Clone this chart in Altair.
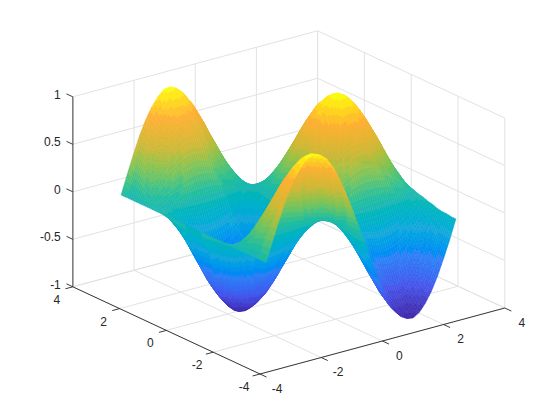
import altair as alt
import pandas as pd

# Surface grid: rows run along y, columns along x; heights in hundredths
x_grid = [-3.14,-2.94,-2.74,-2.54,-2.34,-2.14,-1.94,-1.74,-1.54,-1.34,-1.14,-0.94,-0.74,-0.54,-0.34,-0.14,0.06,0.26,0.46,0.66,0.86,1.06,1.26,1.46,1.66,1.86,2.06,2.26,2.46,2.66,2.86,3.06]
y_grid = list(x_grid)
z_rows = [
[0,20,39,57,72,84,93,99,100,97,91,81,67,51,33,14,-6,-26,-44,-61,-76,-87,-95,-99,-100,-96,-88,-77,-63,-46,-28,-8],
[0,20,38,56,71,82,91,97,98,95,89,79,66,50,32,14,-6,-25,-43,-60,-74,-85,-93,-97,-98,-94,-86,-75,-62,-45,-27,-8],
[0,18,36,52,66,77,86,91,92,89,84,75,62,47,30,13,-6,-24,-40,-56,-70,-80,-87,-91,-92,-88,-81,-71,-58,-42,-26,-7],
[0,17,32,47,60,70,77,82,83,81,76,67,56,42,27,12,-5,-22,-37,-51,-63,-72,-79,-82,-83,-80,-73,-64,-52,-38,-23,-7],
[0,14,27,40,50,59,65,69,70,68,64,57,47,36,23,10,-4,-18,-31,-43,-53,-61,-67,-69,-70,-67,-62,-54,-44,-32,-20,-6],
[0,11,21,31,39,45,50,53,54,52,49,44,36,28,18,8,-3,-14,-24,-33,-41,-47,-51,-53,-54,-52,-48,-42,-34,-25,-15,-4],
[0,7,14,21,26,30,33,36,36,35,33,29,24,18,12,5,-2,-9,-16,-22,-27,-31,-34,-36,-36,-35,-32,-28,-23,-17,-10,-3],
[0,3,7,10,12,14,16,17,17,16,15,14,11,9,6,2,-1,-4,-7,-10,-13,-15,-16,-17,-17,-16,-15,-13,-11,-8,-5,-1],
[0,-1,-1,-2,-2,-3,-3,-3,-3,-3,-3,-2,-2,-2,-1,0,0,1,1,2,2,3,3,3,3,3,3,2,2,1,1,0],
[0,-5,-9,-13,-17,-19,-21,-23,-23,-22,-21,-19,-15,-12,-8,-3,1,6,10,14,17,20,22,23,23,22,20,18,14,11,6,2],
[0,-8,-16,-24,-30,-35,-39,-42,-42,-41,-38,-34,-28,-21,-14,-6,3,11,18,26,32,37,40,42,42,40,37,32,26,19,12,3],
[0,-12,-23,-34,-42,-50,-55,-58,-59,-57,-54,-48,-40,-30,-19,-8,4,15,26,36,45,51,56,58,59,57,52,45,37,27,17,5],
[0,-15,-29,-42,-53,-62,-69,-73,-74,-72,-67,-60,-50,-38,-24,-10,4,19,33,45,56,64,70,73,74,71,65,57,47,34,21,6],
[0,-17,-34,-49,-62,-72,-80,-85,-86,-83,-78,-70,-58,-44,-28,-12,5,22,38,52,65,75,82,85,86,83,76,66,54,40,24,7],
[0,-19,-37,-54,-68,-79,-87,-93,-94,-91,-86,-76,-63,-48,-31,-13,6,24,41,57,71,82,89,93,94,90,83,72,59,43,26,8],
[0,-20,-39,-56,-71,-83,-92,-98,-99,-96,-90,-80,-66,-50,-33,-14,6,26,44,60,75,86,94,98,99,95,87,76,62,46,28,8],
[0,-20,-39,-57,-72,-84,-93,-99,-100,-97,-91,-81,-67,-51,-33,-14,6,26,44,61,76,87,95,99,100,96,88,77,63,46,28,8],
[0,-19,-38,-55,-70,-81,-90,-96,-97,-94,-88,-79,-65,-49,-32,-14,6,25,43,59,74,84,92,96,97,93,85,75,61,45,27,8],
[0,-18,-35,-51,-65,-76,-84,-89,-90,-87,-82,-73,-60,-46,-30,-13,5,23,40,55,68,78,86,89,90,86,79,69,57,41,25,7],
[0,-16,-31,-45,-57,-66,-73,-78,-79,-77,-72,-64,-53,-40,-26,-11,5,21,35,48,60,69,75,78,79,76,70,61,50,36,22,6],
[0,-13,-25,-37,-47,-55,-60,-64,-65,-63,-59,-53,-44,-33,-21,-9,4,17,29,40,49,57,62,64,65,62,57,50,41,30,18,5],
[0,-10,-19,-28,-35,-41,-46,-49,-49,-48,-45,-40,-33,-25,-16,-7,3,13,22,30,37,43,47,49,49,47,43,38,31,23,14,4],
[0,-6,-12,-18,-22,-26,-29,-31,-31,-30,-28,-25,-21,-16,-10,-4,2,8,14,19,24,27,29,31,31,30,27,24,20,14,9,2],
[0,-2,-4,-6,-8,-9,-10,-11,-11,-11,-10,-9,-7,-6,-4,-2,1,3,5,7,8,10,10,11,11,11,10,8,7,5,3,1],
[0,2,4,5,6,8,8,9,9,9,8,7,6,5,3,1,-1,-2,-4,-5,-7,-8,-9,-9,-9,-9,-8,-7,-6,-4,-3,-1],
[0,6,11,17,21,24,27,29,29,28,26,23,19,15,10,4,-2,-8,-13,-18,-22,-25,-28,-29,-29,-28,-26,-22,-18,-13,-8,-2],
[0,9,18,27,34,39,44,47,47,46,43,38,31,24,16,7,-3,-12,-21,-29,-36,-41,-45,-47,-47,-45,-41,-36,-30,-22,-13,-4],
[0,13,25,36,46,54,60,63,64,62,58,52,43,33,21,9,-4,-17,-28,-39,-49,-56,-61,-63,-64,-61,-56,-49,-40,-29,-18,-5],
[0,16,30,44,56,66,73,77,78,76,71,63,52,40,26,11,-5,-20,-34,-48,-59,-68,-74,-77,-78,-75,-69,-60,-49,-36,-22,-6],
[0,18,35,51,64,75,83,88,89,86,81,72,60,45,29,12,-5,-23,-39,-54,-68,-77,-85,-88,-89,-85,-78,-69,-56,-41,-25,-7],
[0,19,37,55,69,81,89,95,96,93,87,78,64,49,32,13,-6,-25,-42,-59,-73,-84,-91,-95,-96,-92,-84,-74,-60,-44,-27,-8],
[0,20,39,57,72,84,93,99,100,97,91,81,67,51,33,14,-6,-26,-44,-61,-76,-87,-95,-99,-100,-96,-88,-77,-63,-46,-28,-8],
]
xy_ticks = [-4, -2, 0, 2, 4]
z_ticks = [-1, -0.5, 0, 0.5, 1]
z_labels = ["-1", "-0.5", "0", "0.5", "1"]
parula_stops = ["#3e26a8", "#4656ec", "#2e80f6", "#14a8da", "#1cb8b0", "#6cc466", "#d0b838", "#feb034", "#f9fb15"]

GRID = "#e2e2e2"
INK = "#262626"
FONT = "Liberation Sans"
SHADE = 3        # colour cells per facet side, like interpolated shading
LEVELS = 16      # colour levels per unit of height, like a discrete colormap

def project(x, y, z):
    """Orthographic view of the 3-D box (az -37.5, el 30) onto the page."""
    return (260 + (x + 4) * 30.6 - (y + 4) * 23.4,
            374 - (x + 4) * 8.25 - (y + 4) * 10.9 - (z + 1) * 95)

def seg(p, q):
    a, b = project(*p), project(*q)
    return {"a": a[0], "b": a[1], "a2": b[0], "b2": b[1]}

# back walls and floor
grid = []
for t in xy_ticks:
    grid += [seg((t, 4, -1), (t, 4, 1)), seg((4, t, -1), (4, t, 1)),
             seg((t, -4, -1), (t, 4, -1)), seg((-4, t, -1), (4, t, -1))]
for t in z_ticks:
    grid += [seg((-4, 4, t), (4, 4, t)), seg((4, -4, t), (4, 4, t))]

# axes and ticks
axes_dark = [seg((-4, -4, -1), (4, -4, -1)), seg((-4, -4, -1), (-4, 4, -1))]
for t in xy_ticks:
    axes_dark += [seg((t, -4, -1), (t, -4.28, -1)), seg((-4, t, -1), (-4.24, t, -1))]
axes_grey = [seg((-4, 4, -1), (-4, 4, 1))]
for t in z_ticks:
    axes_dark.append(seg((-4, 4, t), (-4, 4.27, t)))

labels = []
for t in xy_ticks:
    a = project(t, -4, -1)
    labels.append({"a": a[0] + 17, "b": a[1] + 14.5, "t": str(t)})
    a = project(-4, t, -1)
    labels.append({"a": a[0] - 16, "b": a[1] + 13, "t": str(t)})
z_text = []
for t, s in zip(z_ticks, z_labels):
    a = project(-4, 4, t)
    z_text.append({"a": a[0] - 12, "b": a[1] - 2, "t": s})

def blend(i, j, u, v):
    """Point of facet (i, j) at (u, v): x, y, height."""
    x0, x1, y0, y1 = x_grid[i], x_grid[i + 1], y_grid[j], y_grid[j + 1]
    z00, z10 = z_rows[j][i], z_rows[j][i + 1]
    z01, z11 = z_rows[j + 1][i], z_rows[j + 1][i + 1]
    z = (z00 * (1 - u) + z10 * u) * (1 - v) + (z01 * (1 - u) + z11 * u) * v
    return x0 + (x1 - x0) * u, y0 + (y1 - y0) * v, z / 100

# painted from the far corner to the near one
features = []
n = len(x_grid)
for j in range(n - 2, -1, -1):
    for i in range(n - 2, -1, -1):
        for b in range(SHADE - 1, -1, -1):
            for a in range(SHADE - 1, -1, -1):
                us = [a / SHADE, (a + 1) / SHADE]
                vs = [b / SHADE, (b + 1) / SHADE]
                pts3 = [blend(i, j, us[0], vs[0]), blend(i, j, us[1], vs[0]),
                        blend(i, j, us[1], vs[1]), blend(i, j, us[0], vs[1])]
                pts = [list(project(*p)) for p in pts3]
                pts.append(pts[0])
                zm = sum(p[2] for p in pts3) / 4
                features.append({"type": "Feature",
                                 "geometry": {"type": "Polygon", "coordinates": [pts]},
                                 "properties": {"z": round(zm * LEVELS) / LEVELS}})

X = alt.X("a:Q", scale=alt.Scale(domain=[8, 552]), axis=None)
Y = alt.Y("b:Q", scale=alt.Scale(domain=[412, 8]), axis=None)

def rules(rows, color, width):
    return alt.Chart(pd.DataFrame(rows)).mark_rule(color=color, strokeWidth=width).encode(
        x=X, y=Y, x2="a2:Q", y2="b2:Q")

cscale = alt.Scale(domain=[-1, 1], range=parula_stops)
surface = alt.Chart(alt.Data(values=features)).mark_geoshape(strokeWidth=0.5, opacity=1, fillOpacity=1, strokeOpacity=1).encode(
    color=alt.Color("properties.z:Q", scale=cscale, legend=None),
    stroke=alt.Stroke("properties.z:Q", scale=cscale, legend=None),
).project(type="identity", scale=1, translate=[-8, -8])

tick_text = alt.Chart(pd.DataFrame(labels)).mark_text(
    font=FONT, fontSize=12, color=INK, align="center", baseline="middle").encode(x=X, y=Y, text="t:N")
z_tick_text = alt.Chart(pd.DataFrame(z_text)).mark_text(
    font=FONT, fontSize=12, color=INK, align="right", baseline="middle").encode(x=X, y=Y, text="t:N")

chart = alt.layer(
    rules(grid, GRID, 1),
    surface,
    rules(axes_grey, "#808080", 1.6),
    rules(axes_dark, INK, 0.9),
    tick_text,
    z_tick_text,
).properties(width=544, height=404, padding=0, autosize=alt.AutoSizeParams(type="none")
).configure_view(stroke=None)

chart.save("out.html", embed_options={"renderer": "svg", "actions": False})
